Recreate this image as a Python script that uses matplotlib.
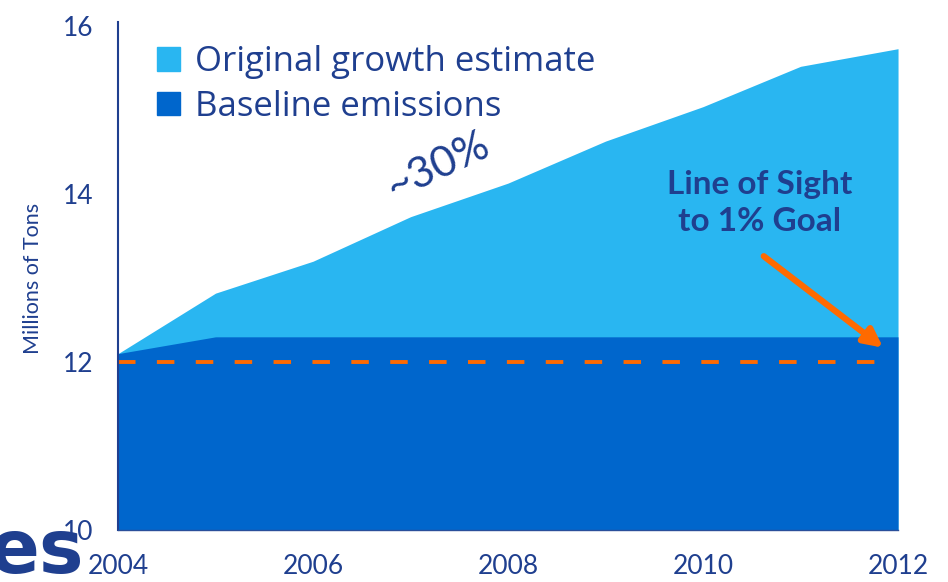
import matplotlib.pyplot as plt
from matplotlib.patches import Patch

# data
years = [2004, 2005, 2006, 2007, 2008, 2009, 2010, 2011, 2012]
growth = [12.1, 12.82, 13.2, 13.73, 14.13, 14.63, 15.04, 15.52, 15.73]
baseline = [12.1, 12.3, 12.3, 12.3, 12.3, 12.3, 12.3, 12.3, 12.3]
goal = 12.0
xticks = [2004, 2006, 2008, 2010, 2012]
yticks = [10, 12, 14, 16]

navy = '#1F3F8F'
light = '#29B6F1'
dark = '#0066CC'
orange = '#FF6A00'

plt.rcParams['font.family'] = ['Lato', 'DejaVu Sans']

fig = plt.figure(figsize=(9.48, 5.82), dpi=100)
ax = fig.add_axes([0.1245, 0.0893, 0.8228, 0.866])

ax.fill_between(years, 10, growth, color=light, linewidth=0)
ax.fill_between(years, 10, baseline, color=dark, linewidth=0)
ax.plot([years[0], years[-1] - 0.18], [goal, goal], color=orange, lw=2.8,
        dashes=(4.5, 5.5))

ax.set_xlim(years[0], years[-1])
ax.set_ylim(10, 16)
ax.set_xticks(xticks)
ax.set_yticks(yticks)
ax.tick_params(length=0, labelsize=19, labelcolor=navy)
ax.tick_params(axis='x', pad=17)
ax.tick_params(axis='y', pad=18)
for s in ['top', 'right']:
    ax.spines[s].set_visible(False)
ax.spines['left'].set_color(navy)
ax.spines['left'].set_linewidth(1.5)
ax.spines['left'].set_bounds(10, 16.05)
ax.spines['bottom'].set_color('#2A4F9A')
ax.spines['bottom'].set_linewidth(1.0)
ax.set_ylabel('Millions of Tons', color=navy, fontsize=15.5, labelpad=14)

handles = [Patch(color=light), Patch(color=dark)]
ax.legend(handles, ['Original growth estimate', 'Baseline emissions'],
          loc='upper left', bbox_to_anchor=(0.01, 1.024), frameon=False,
          prop={'family': 'Open Sans', 'size': 25}, labelcolor=navy,
          handlelength=0.65, handleheight=0.65,
          handletextpad=0.45, labelspacing=0.3)

ax.text(2007.28, 14.33, '~30%', rotation=25, color=navy, fontsize=31,
        ha='center', va='center')
ax.text(2010.58, 13.89, 'Line of Sight\nto 1% Goal', color=navy,
        fontsize=24, fontweight='bold', ha='center', va='center',
        linespacing=1.35)
ax.annotate('', xy=(2011.87, 12.15), xytext=(2010.6, 13.28),
            arrowprops=dict(arrowstyle='-|>,head_length=1.1,head_width=0.55',
                            color=orange, lw=4.5))

fig.text(-0.012, -0.012, 'es', color=navy, fontsize=54, fontweight='bold',
         family='DejaVu Sans', ha='left', va='bottom')

fig.savefig('out.png', dpi=100)
